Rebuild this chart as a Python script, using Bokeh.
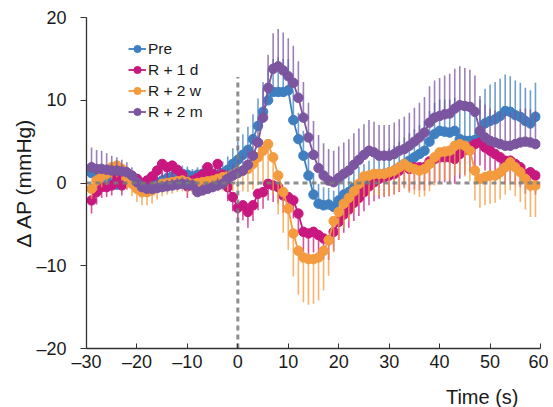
from bokeh.plotting import figure
from bokeh.models import Range1d, FixedTicker, Title
from bokeh.embed import file_html
from bokeh.resources import INLINE

# ---- data ----
TIME = list(range(-29, 60))

PRE = [1.2, 1.0, 0.8, 0.6, 0.4, -0.2, 0.2, 0.5, 0.3, 0.0,
       -0.3, -0.4, -0.3, 0.0, 0.3, 0.6, 0.8, 1.0, 1.1, 1.0,
       0.8, 1.0, 1.1, 1.0, 0.9, 1.0, 1.2, 1.6, 2.3, 2.8,
       3.4, 4.0, 5.3, 6.9, 8.6, 10.0, 11.0, 11.0, 11.0, 11.2,
       7.6, 5.3, 3.3, 0.9, -1.4, -2.5, -2.7, -2.6, -2.9, -2.1,
       -1.4, -1.1, -0.6, -0.3, -0.1, 0.2, 0.5, 0.8, 1.1, 1.3,
       1.5, 1.9, 2.3, 2.7, 3.1, 3.5, 3.9, 5.0, 5.9, 6.3,
       6.2, 6.1, 6.3, 5.3, 5.1, 5.1, 5.2, 6.1, 7.2, 7.5,
       7.7, 8.1, 8.7, 8.6, 8.2, 8.0, 7.5, 7.2, 8.0]
PRE_ERR = [0.9, 0.9, 0.8, 0.8, 0.8, 0.9, 0.8, 0.8, 0.7, 0.7,
           0.7, 0.8, 0.8, 0.8, 0.9, 0.9, 0.9, 1.0, 1.0, 1.0,
           0.9, 0.9, 1.0, 1.0, 1.1, 1.2, 1.4, 1.6, 1.9, 2.2,
           2.5, 2.8, 3.0, 3.3, 3.6, 3.8, 4.0, 4.2, 4.0, 3.8,
           3.5, 3.2, 3.0, 2.8, 2.6, 2.4, 2.2, 2.0, 2.0, 2.0,
           2.0, 2.0, 2.2, 2.3, 2.4, 2.5, 2.6, 2.7, 2.8, 2.9,
           3.0, 3.1, 3.2, 3.3, 3.4, 3.5, 3.6, 3.7, 3.8, 3.8,
           3.9, 4.0, 4.0, 3.9, 3.8, 3.8, 3.9, 4.0, 4.2, 4.4,
           4.5, 4.5, 4.4, 4.3, 4.2, 4.1, 4.0, 4.0, 4.1]

R1D = [-2.1, -1.1, -0.5, -0.5, -0.3, 0.7, -0.3, 0.4, 0.8, 0.5,
       0.0, 0.3, 0.8, 1.5, 2.3, 1.9, 2.1, 1.6, 1.0, -0.4,
       0.3, 0.6, 1.0, 1.9, 1.1, 2.3, 1.0, -0.5, -1.7, -3.0,
       -2.7, -3.5, -2.7, -1.3, -1.1, -0.1, -0.3, -0.5, -1.5, -1.7,
       -2.1, -3.7, -5.9, -6.1, -5.9, -6.3, -6.7, -6.9, -5.9, -4.7,
       -3.8, -3.2, -2.4, -1.8, -1.1, -0.4, 0.1, 0.5, 0.7, 0.9,
       1.1, 1.5, 2.1, 1.7, 1.9, 1.9, 1.9, 2.6, 2.9, 3.1,
       3.1, 3.1, 2.9, 3.5, 4.0, 4.3, 4.7, 4.9, 4.3, 3.9,
       3.5, 3.1, 2.7, 2.7, 2.3, 1.9, 1.1, 1.3, 0.9]
R1D_ERR = [1.6, 1.5, 1.3, 1.2, 1.2, 1.1, 1.2, 1.2, 1.3, 1.3,
           1.4, 1.4, 1.5, 1.5, 1.6, 1.6, 1.5, 1.5, 1.5, 1.4,
           1.4, 1.4, 1.5, 1.5, 1.5, 1.6, 1.6, 1.7, 1.7, 1.8,
           1.8, 1.9, 1.9, 2.0, 2.0, 2.0, 2.0, 2.0, 2.1, 2.1,
           2.2, 2.3, 2.4, 2.5, 2.5, 2.5, 2.5, 2.4, 2.3, 2.2,
           2.2, 2.2, 2.2, 2.2, 2.3, 2.3, 2.3, 2.4, 2.4, 2.5,
           2.5, 2.6, 2.6, 2.7, 2.7, 2.8, 2.8, 2.9, 2.9, 3.0,
           3.0, 3.0, 3.0, 3.0, 3.0, 2.9, 2.9, 2.8, 2.8, 2.7,
           2.7, 2.6, 2.6, 2.5, 2.5, 2.4, 2.4, 2.3, 2.3]

R2W = [-0.7, 0.3, 0.8, 1.1, 1.9, 2.1, 1.7, 0.7, -0.1, -0.7,
       -1.1, -1.1, -0.9, -0.5, -0.1, 0.0, 0.1, 0.2, 0.3, 0.1,
       -0.1, 0.0, 0.1, 0.2, 0.3, 0.5, 0.7, 0.8, 1.0, 1.3,
       1.5, 1.7, 2.3, 3.1, 3.9, 4.7, 3.1, 0.9, -1.1, -3.1,
       -6.1, -8.2, -9.0, -9.2, -9.2, -9.0, -8.2, -6.9, -4.6, -3.5,
       -2.5, -1.8, -1.0, -0.1, 0.8, 0.9, 1.1, 1.1, 1.1, 1.3,
       1.5, 1.9, 2.3, 1.9, 1.7, 1.5, 1.7, 2.3, 3.1, 3.7,
       3.8, 3.9, 4.5, 4.7, 4.5, 3.9, 1.5, 0.5, 0.7, 0.9,
       0.9, 1.3, 1.9, 2.5, 1.9, 1.3, 0.5, -0.3, -0.3]
R2W_ERR = [1.2, 1.2, 1.3, 1.3, 1.4, 1.4, 1.4, 1.5, 1.5, 1.6,
           1.6, 1.6, 1.6, 1.5, 1.5, 1.4, 1.4, 1.3, 1.3, 1.3,
           1.3, 1.3, 1.3, 1.4, 1.4, 1.5, 1.6, 1.8, 2.0, 2.2,
           2.5, 2.8, 3.1, 3.4, 3.8, 4.2, 4.5, 4.7, 4.9, 5.0,
           5.2, 5.3, 5.4, 5.5, 5.4, 5.2, 4.8, 4.3, 3.8, 3.3,
           3.0, 2.8, 2.6, 2.5, 2.5, 2.6, 2.6, 2.7, 2.7, 2.8,
           2.9, 2.9, 3.0, 3.1, 3.1, 3.2, 3.3, 3.3, 3.4, 3.4,
           3.5, 3.5, 3.6, 3.6, 3.7, 3.7, 3.6, 3.5, 3.4, 3.4,
           3.3, 3.3, 3.3, 3.4, 3.5, 3.6, 3.7, 3.8, 3.8]

R2M = [1.9, 1.7, 1.7, 1.6, 1.5, 1.5, 1.4, 1.3, 0.9, 0.1,
       -0.5, -0.7, -0.7, -0.6, -0.5, -0.4, -0.3, -0.2, -0.1, -0.2,
       -0.3, -1.1, -0.9, -0.7, -0.5, -0.3, -0.1, 0.5, 0.9, 1.2,
       1.5, 2.2, 3.3, 4.9, 7.9, 11.5, 13.8, 14.1, 13.6, 12.9,
       12.1, 10.3, 7.9, 5.5, 3.4, 1.8, 0.9, 0.3, 0.1, 0.6,
       1.1, 1.5, 2.2, 2.8, 3.4, 3.9, 3.7, 3.3, 3.3, 3.3,
       3.5, 3.9, 4.1, 4.5, 5.0, 5.5, 6.1, 7.3, 7.9, 8.1,
       8.3, 8.4, 9.0, 9.4, 9.3, 9.2, 8.6, 6.3, 5.5, 5.1,
       4.9, 4.7, 4.5, 4.5, 4.7, 4.9, 5.0, 4.9, 4.7]
R2M_ERR = [2.4, 2.3, 2.2, 2.0, 1.8, 1.6, 1.4, 1.2, 1.0, 0.9,
           0.8, 0.8, 0.8, 0.8, 0.8, 0.8, 0.8, 0.8, 0.8, 0.8,
           0.8, 0.8, 0.8, 0.8, 0.8, 0.9, 1.0, 1.2, 1.4, 1.6,
           1.8, 2.1, 2.5, 3.0, 3.5, 4.0, 4.3, 4.5, 4.6, 4.6,
           4.5, 4.4, 4.3, 4.2, 4.1, 4.0, 3.9, 3.8, 3.8, 3.8,
           3.8, 3.8, 3.8, 3.8, 3.7, 3.7, 3.7, 3.7, 3.7, 3.7,
           3.8, 3.8, 3.9, 4.0, 4.1, 4.2, 4.3, 4.4, 4.5, 4.6,
           4.7, 4.8, 4.8, 4.7, 4.6, 4.5, 4.4, 4.2, 4.0, 3.9,
           3.9, 3.9, 3.9, 4.0, 4.0, 4.0, 4.0, 4.0, 4.0]

SERIES = ["Pre", "R + 1 d", "R + 2 w", "R + 2 m"]
X_TICKS = [-30, -20, -10, 0, 10, 20, 30, 40, 50, 60]
Y_TICKS = [-20, -10, 0, 10, 20]
BASELINE = 0
STIM_TIME = 0
STIM_LINE_TOP = 12.8
X_LABEL = "Time (s)"
Y_LABEL = "\u0394 AP (mmHg)"

COLORS = ["#3F7FC0", "#C8187F", "#F39B3E", "#7B559F"]
ERR_DIR = [1, -1, -1, 1]

FONT = "Liberation Sans"

p = figure(width=548, height=407, output_backend="svg", toolbar_location=None,
           x_range=Range1d(-30, 60), y_range=Range1d(-20, 20),
           min_border_left=86, min_border_right=8, min_border_top=17,
           min_border_bottom=59)
p.grid.visible = False
p.outline_line_color = None
p.background_fill_color = "white"

for name, vals, errs, col, d in zip(SERIES, [PRE, R1D, R2W, R2M],
                                    [PRE_ERR, R1D_ERR, R2W_ERR, R2M_ERR],
                                    COLORS, ERR_DIR):
    ends = [v + d * e for v, e in zip(vals, errs)]
    p.segment(x0=TIME, y0=vals, x1=TIME, y1=ends, line_color=col,
              line_width=1.6, line_alpha=0.75)
    p.line(TIME, vals, line_color=col, line_width=1.8, legend_label=name)
    p.scatter(TIME, vals, size=9.5, fill_color=col, line_color=col,
              legend_label=name)

# reference dashed lines
p.line([X_TICKS[0], X_TICKS[-1]], [BASELINE, BASELINE], line_color="#7a7a7a",
       line_width=3, line_dash="5 4", line_alpha=0.85)
p.line([STIM_TIME, STIM_TIME], [Y_TICKS[0], STIM_LINE_TOP], line_color="#7a7a7a",
       line_width=3, line_dash="5 4", line_alpha=0.85)

def en(v):
    return ("\u2013" + str(abs(v))) if v < 0 else str(v)

xa = p.xaxis[0]
xa.ticker = FixedTicker(ticks=X_TICKS)
xa.major_label_overrides = {t: en(t) for t in X_TICKS}
xa.major_tick_in = 5
xa.major_tick_out = 0
xa.minor_tick_line_color = None
xa.major_label_standoff = 3
xa.major_label_text_font = FONT
xa.major_label_text_font_size = "18px"
xa.major_label_text_color = "#1a1a1a"
xa.axis_line_color = "#333333"
xa.major_tick_line_color = "#333333"
xa.axis_line_width = 1.3
# invisible spacer label: pushes the "Time (s)" title down to the bottom edge
xa.axis_label = " "
xa.axis_label_text_font_size = "5px"
xa.axis_label_standoff = 0

ya = p.yaxis[0]
ya.ticker = FixedTicker(ticks=Y_TICKS)
ya.major_label_overrides = {t: en(t) for t in Y_TICKS}
ya.major_tick_in = 0
ya.major_tick_out = 6
ya.minor_tick_line_color = None
ya.major_label_standoff = 14
ya.major_label_text_font = FONT
ya.major_label_text_font_size = "18px"
ya.major_label_text_color = "#1a1a1a"
ya.axis_line_color = "#333333"
ya.major_tick_line_color = "#333333"
ya.axis_line_width = 1.3
ya.axis_label = Y_LABEL
ya.axis_label_text_font = FONT
ya.axis_label_text_font_size = "21px"
ya.axis_label_text_font_style = "normal"
ya.axis_label_text_color = "#1a1a1a"
ya.axis_label_standoff = -2

p.add_layout(Title(text=X_LABEL, align="right", offset=22, text_font=FONT,
                   text_font_size="20px", text_font_style="normal",
                   text_color="#1a1a1a", standoff=0), "below")

lg = p.legend[0]
lg.location = (42, 226)
lg.border_line_color = None
lg.background_fill_alpha = 0
lg.padding = 2
lg.margin = 0
lg.spacing = 0
lg.glyph_width = 18
lg.glyph_height = 21
lg.label_standoff = 2
lg.label_text_font = FONT
lg.label_text_font_size = "15.5px"
lg.label_text_color = "#1a1a1a"
lg.label_height = 21

open("out.html", "w").write(file_html(p, INLINE))
